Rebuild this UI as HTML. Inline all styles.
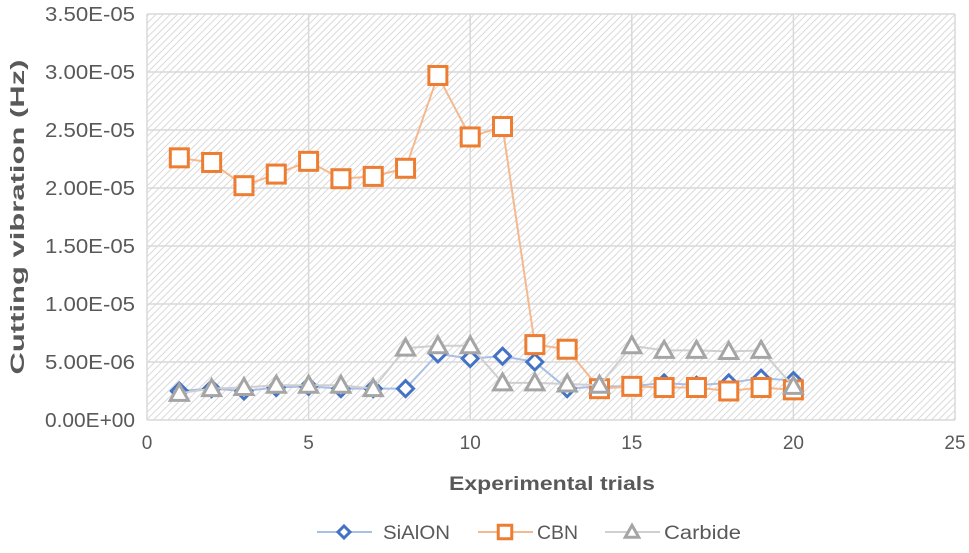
<!DOCTYPE html>
<html><head><meta charset="utf-8"><style>
body{margin:0;background:#fff;font-family:"Liberation Sans",sans-serif}
svg text{font-family:"Liberation Sans",sans-serif;fill:#595959}
</style></head><body>
<svg id="c" width="969" height="548">
<defs><pattern id="h" width="5" height="5" patternUnits="userSpaceOnUse" patternTransform="rotate(45)"><rect width="5" height="5" fill="#fff"/><line x1="0" y1="0" x2="0" y2="5" stroke="#d9d9d9" stroke-width="2"/></pattern></defs>
<rect x="147" y="14" width="808" height="406" fill="url(#h)"/>
<g id="grid"></g><g id="series"></g>
<text x="449" y="490" textLength="206" lengthAdjust="spacingAndGlyphs" font-size="19" font-weight="bold">Experimental trials</text>
<text transform="translate(24,217) rotate(-90)" text-anchor="middle" textLength="315" lengthAdjust="spacingAndGlyphs" font-size="19" font-weight="bold">Cutting vibration (Hz)</text>
<g id="legend"></g>
</svg>
<script>
const trials=[1,2,3,4,5,6,7,8,9,10,11,12,13,14,15,16,17,18,19,20];
const sialon=[2.5e-6,2.7e-6,2.5e-6,2.8e-6,2.9e-6,2.7e-6,2.7e-6,2.7e-6,5.7e-6,5.3e-6,5.5e-6,5.0e-6,2.7e-6,2.9e-6,2.9e-6,3.2e-6,3.0e-6,3.2e-6,3.6e-6,3.4e-6];
const cbn=[2.26e-5,2.22e-5,2.02e-5,2.12e-5,2.23e-5,2.08e-5,2.10e-5,2.17e-5,2.97e-5,2.44e-5,2.53e-5,6.5e-6,6.1e-6,2.7e-6,2.9e-6,2.8e-6,2.8e-6,2.5e-6,2.8e-6,2.6e-6];
const carbide=[2.3e-6,2.7e-6,2.8e-6,3.0e-6,3.0e-6,3.0e-6,2.7e-6,6.2e-6,6.4e-6,6.4e-6,3.2e-6,3.2e-6,3.1e-6,3.0e-6,6.4e-6,6.0e-6,6.0e-6,5.9e-6,6.0e-6,2.9e-6];
const yTicks=[0,5e-6,1e-5,1.5e-5,2e-5,2.5e-5,3e-5,3.5e-5];
const yLabels=["0.00E+00","5.00E-06","1.00E-05","1.50E-05","2.00E-05","2.50E-05","3.00E-05","3.50E-05"];
const xTicks=[0,5,10,15,20,25];
const NS="http://www.w3.org/2000/svg";
const X=v=>147+v*808/25, Y=v=>420-v*406/3.5e-5;
function el(t,a,p){const e=document.createElementNS(NS,t);for(const k in a)e.setAttribute(k,a[k]);p.appendChild(e);return e;}
const g=document.getElementById('grid');
yTicks.forEach((t,i)=>{
 const l=el('line',{x1:147,x2:955,y1:Y(t),y2:Y(t),stroke:'#d9d9d9','stroke-width':1.5},g);
 
 
 const tx=el('text',{x:45,y:Y(t)+7,textLength:90,lengthAdjust:'spacingAndGlyphs','font-size':20},g);tx.textContent=yLabels[i];
 
 
});
xTicks.forEach(t=>{
 const l=el('line',{x1:X(t),x2:X(t),y1:14,y2:420,stroke:'#d9d9d9','stroke-width':1.5},g);
 
 
 const tx=el('text',{x:X(t),y:449,'text-anchor':'middle','font-size':19},g);tx.textContent=t;
 
 
});
function marker(type,x,y,color,p,k){
 k=k||1;let m;
 if(type==='d')m=el('polygon',{points:`${x},${y-8*k} ${x+8*k},${y} ${x},${y+8*k} ${x-8*k},${y}`,fill:'#fff',stroke:color,'stroke-width':3},p);
 else if(type==='s')m=el('rect',{x:x-9*k,y:y-9*k,width:18*k,height:18*k,fill:'#fff',stroke:color,'stroke-width':3},p);
 else m=el('polygon',{points:`${x},${y-9*k} ${x+9*k},${y+7*k} ${x-9*k},${y+7*k}`,fill:'#fff',stroke:color,'stroke-width':3},p);
 return m;
}
const s=document.getElementById('series');
const defs=[[sialon,'d','#4472c4','#a9bfe6','sialon'],[cbn,'s','#ed7d31','#f4b98f','cbn'],[carbide,'t','#a5a5a5','#cfcfcf','carbide']];
defs.forEach(([d,t,c,lc,n])=>{
 const gg=el('g',{},s);
 
 
 const pl=el('polyline',{points:d.map((v,i)=>X(trials[i])+','+Y(v)).join(' '),fill:'none',stroke:lc,'stroke-width':2},gg);
 
 
 d.forEach((v,i)=>{const m=marker(t,X(trials[i]),Y(v),c,gg);
  
  });
});
const lg=document.getElementById('legend');
const names=['SiAlON','CBN','Carbide'],lx=[317,478,605],tw=[67,41,77];
defs.forEach(([d,t,c,lc,n],i)=>{
 const gg=el('g',{},lg);
 
 
 el('line',{x1:lx[i],x2:lx[i]+55,y1:532,y2:532,stroke:lc,'stroke-width':2},gg);
 marker(t,lx[i]+27,532,c,gg,0.75);
 const tx=el('text',{x:lx[i]+(i===0?66:59),y:539,'font-size':19,textLength:tw[i],lengthAdjust:'spacingAndGlyphs'},gg);tx.textContent=names[i];
});
</script>
</body></html>
